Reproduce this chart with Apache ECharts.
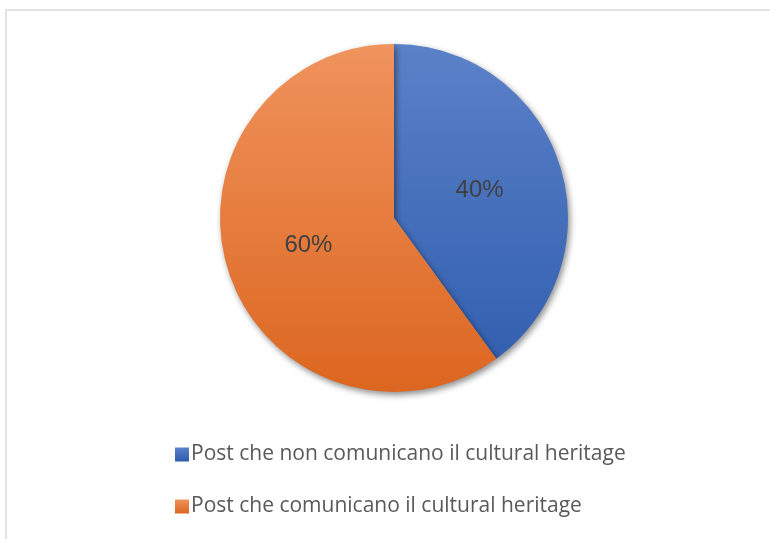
<!DOCTYPE html>
<html>
<head>
<meta charset="utf-8">
<script src="https://cdn.jsdelivr.net/npm/echarts@6/dist/echarts.min.js"></script>
<style>
  html, body { margin: 0; padding: 0; background: #fff; }
  #chart { width: 770px; height: 539px; }
</style>
</head>
<body>
<div id="chart"></div>
<script>
// Share of posts, by whether they communicate cultural heritage
const categories = [
  'Post che non comunicano il cultural heritage',
  'Post che comunicano il cultural heritage'
];
const values = [40, 60];

// Vertical fills, light at the top to darker at the bottom
const palette = [
  { top: '#5b81c8', bottom: '#2f5cad' },
  { top: '#f0935d', bottom: '#dc6620' }
];

const cx = 394, cy = 218, r = 174;

function sliceFill(p) {
  return new echarts.graphic.LinearGradient(0, cy - r, 0, cy + r, [
    { offset: 0, color: p.top },
    { offset: 1, color: p.bottom }
  ], true);
}
function iconFill(p) {
  return new echarts.graphic.LinearGradient(0, 0, 0, 1, [
    { offset: 0, color: p.top },
    { offset: 1, color: p.bottom }
  ]);
}

const chart = echarts.init(document.getElementById('chart'), null, { renderer: 'canvas' });

chart.setOption({
  animation: false,
  backgroundColor: '#ffffff',
  graphic: [
    { type: 'line', shape: { x1: 6, y1: 10, x2: 770, y2: 10 }, style: { stroke: '#d9d9d9', lineWidth: 1.5 } },
    { type: 'line', shape: { x1: 6, y1: 10, x2: 6, y2: 539 }, style: { stroke: '#d9d9d9', lineWidth: 1.5 } }
  ],
  legend: {
    orient: 'vertical',
    left: 170,
    top: 439,
    itemWidth: 14,
    itemHeight: 14,
    itemGap: 31,
    icon: 'rect',
    textStyle: { fontFamily: 'Open Sans', fontSize: 21, color: '#595959', padding: [0, 0, 0, -3] },
    data: categories.map((name, i) => ({ name, itemStyle: { color: iconFill(palette[i]) } }))
  },
  series: [{
    type: 'pie',
    center: [cx, cy],
    radius: [0, r],
    startAngle: 90,
    clockwise: true,
    avoidLabelOverlap: false,
    label: {
      show: true,
      position: 'inside',
      formatter: '{d}%',
      fontFamily: 'Liberation Sans',
      fontSize: 24,
      color: '#404040'
    },
    labelLine: { show: false },
    itemStyle: {
      shadowBlur: 6,
      shadowOffsetX: 2,
      shadowOffsetY: 3,
      shadowColor: 'rgba(0,0,0,0.45)'
    },
    data: categories.map((name, i) => ({
      name,
      value: values[i],
      itemStyle: { color: sliceFill(palette[i]) }
    }))
  }]
});
</script>
</body>
</html>
